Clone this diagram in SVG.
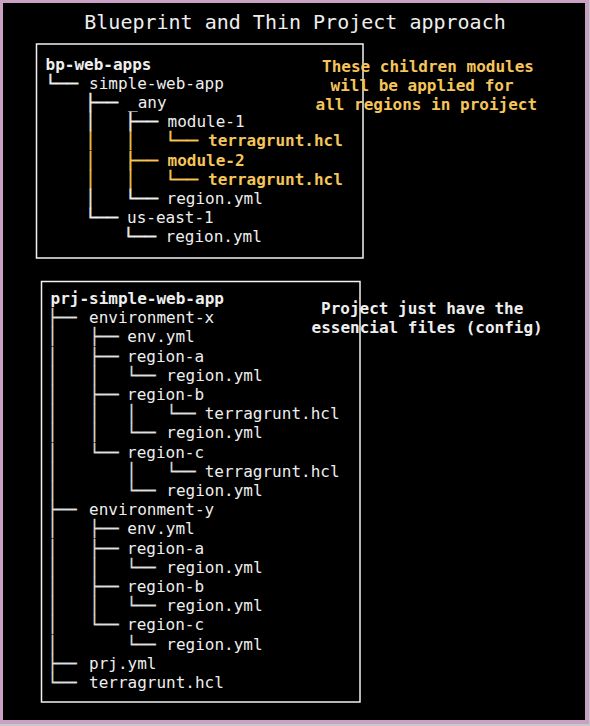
<svg xmlns="http://www.w3.org/2000/svg" width="590" height="726" viewBox="0 0 590 726">
<style>
text{font-family:"DejaVu Sans Mono","Liberation Mono",monospace;font-size:16px;fill:#eeeeee}
.b{font-weight:bold}
.y{fill:#f5c55a}
.t{font-size:20px}
.box{fill:none;stroke:#f2f2f2;stroke-width:1.5}
#connectors text{stroke:#eeeeee;stroke-width:0.35}
#connectors text.y{stroke:#f5c55a}
#connectors text.p{stroke:#d8d8d8;stroke-width:0.25;fill:#e0e0e0}
</style>
<rect x="0" y="0" width="590" height="726" fill="#c8c8c8"/>
<rect x="0" y="0" width="589" height="724" fill="#c9a1c2"/>
<rect x="3" y="3" width="582" height="717" fill="#000000"/>
<g id="title"><text class="t" x="295" y="28.5" text-anchor="middle">Blueprint and Thin Project approach</text></g>
<g id="blueprint-box">
<rect class="box" x="36.5" y="44" width="326.5" height="214"/>
<text class="b" x="45.5" y="70">bp-web-apps</text>
<text x="89" y="89.1">simple-web-app</text>
<text x="128" y="108.2">_any</text>
<text x="167.5" y="127.3">module-1</text>
<text class="y b" x="208" y="146.4">terragrunt.hcl</text>
<text class="y b" x="167.5" y="165.5">module-2</text>
<text class="y b" x="208" y="184.6">terragrunt.hcl</text>
<text x="166.5" y="203.7">region.yml</text>
<text x="127" y="222.8">us-east-1</text>
<text x="165.5" y="241.9">region.yml</text>
</g>
<g id="blueprint-note">
<text class="y b" x="322" y="72">These children modules</text>
<text class="y b" x="330.5" y="91">will be applied for</text>
<text class="y b" x="315.5" y="110">all regions in proiject</text>
</g>
<g id="project-box">
<rect class="box" x="41.5" y="281.5" width="318.5" height="420.5"/>
<text class="b" x="50.5" y="304">prj-simple-web-app</text>
<text x="89" y="323.2">environment-x</text>
<text x="127.3" y="342.4">env.yml</text>
<text x="127" y="361.6">region-a</text>
<text x="166.3" y="380.8">region.yml</text>
<text x="127" y="400">region-b</text>
<text x="204.7" y="419.2">terragrunt.hcl</text>
<text x="166.3" y="438.4">region.yml</text>
<text x="127" y="457.6">region-c</text>
<text x="204.7" y="476.8">terragrunt.hcl</text>
<text x="166.3" y="496">region.yml</text>
<text x="89" y="515.2">environment-y</text>
<text x="127.3" y="534.4">env.yml</text>
<text x="127" y="553.6">region-a</text>
<text x="166.3" y="572.8">region.yml</text>
<text x="127" y="592">region-b</text>
<text x="166.3" y="611.2">region.yml</text>
<text x="127" y="630.4">region-c</text>
<text x="166.3" y="649.6">region.yml</text>
<text x="89" y="668.8">prj.yml</text>
<text x="89" y="688">terragrunt.hcl</text>
</g>
<g id="project-note">
<text class="b" x="321" y="314">Project just have the</text>
<text class="b" x="311.5" y="333">essencial files (config)</text>
</g>
<g id="connectors">
<text x="45" y="89.1" textLength="33" lengthAdjust="spacingAndGlyphs">└──</text>
<text x="85" y="108.2" textLength="33" lengthAdjust="spacingAndGlyphs">├──</text>
<text x="85.7" y="127.3">│</text>
<text x="125" y="127.3" textLength="33" lengthAdjust="spacingAndGlyphs">├──</text>
<text class="y" x="85.7" y="146.4">│</text>
<text class="y" x="125.7" y="146.4">│</text>
<text class="y" x="165" y="146.4" textLength="33" lengthAdjust="spacingAndGlyphs">└──</text>
<text class="y" x="85.7" y="165.5">│</text>
<text class="y" x="125" y="165.5" textLength="33" lengthAdjust="spacingAndGlyphs">├──</text>
<text class="y" x="85.7" y="184.6">│</text>
<text class="y" x="125.7" y="184.6">│</text>
<text class="y" x="165" y="184.6" textLength="33" lengthAdjust="spacingAndGlyphs">└──</text>
<text x="85.7" y="203.7">│</text>
<text x="125" y="203.7" textLength="33" lengthAdjust="spacingAndGlyphs">└──</text>
<text x="85" y="222.8" textLength="33" lengthAdjust="spacingAndGlyphs">└──</text>
<text x="123" y="241.9" textLength="33" lengthAdjust="spacingAndGlyphs">└──</text>

<text class="p" x="47.7" y="323.2">├──</text>
<text class="p" x="47.7" y="342.4">│</text><text class="p" x="89.7" y="342.4">├──</text>
<text class="p" x="47.7" y="361.6">│</text><text class="p" x="89.7" y="361.6">├──</text>
<text class="p" x="47.7" y="380.8">│</text><text class="p" x="89.7" y="380.8">│</text><text class="p" x="126.7" y="380.8">└──</text>
<text class="p" x="47.7" y="400">│</text><text class="p" x="89.7" y="400">├──</text>
<text class="p" x="47.7" y="419.2">│</text><text class="p" x="89.7" y="419.2">│</text><text class="p" x="126.7" y="419.2">│</text><text class="p" x="166.7" y="419.2">└──</text>
<text class="p" x="47.7" y="438.4">│</text><text class="p" x="89.7" y="438.4">│</text><text class="p" x="126.7" y="438.4">└──</text>
<text class="p" x="47.7" y="457.6">│</text><text class="p" x="89.7" y="457.6">└──</text>
<text class="p" x="47.7" y="476.8">│</text><text class="p" x="126.7" y="476.8">│</text><text class="p" x="166.7" y="476.8">└──</text>
<text class="p" x="47.7" y="496">│</text><text class="p" x="126.7" y="496">└──</text>
<text class="p" x="47.7" y="515.2">├──</text>
<text class="p" x="47.7" y="534.4">│</text><text class="p" x="89.7" y="534.4">├──</text>
<text class="p" x="47.7" y="553.6">│</text><text class="p" x="89.7" y="553.6">├──</text>
<text class="p" x="47.7" y="572.8">│</text><text class="p" x="89.7" y="572.8">│</text><text class="p" x="126.7" y="572.8">└──</text>
<text class="p" x="47.7" y="592">│</text><text class="p" x="89.7" y="592">├──</text>
<text class="p" x="47.7" y="611.2">│</text><text class="p" x="89.7" y="611.2">│</text><text class="p" x="126.7" y="611.2">└──</text>
<text class="p" x="47.7" y="630.4">│</text><text class="p" x="89.7" y="630.4">└──</text>
<text class="p" x="47.7" y="649.6">│</text><text class="p" x="126.7" y="649.6">└──</text>
<text class="p" x="47.7" y="668.8">├──</text>
<text class="p" x="47.7" y="688">└──</text>
</g>
</svg>
